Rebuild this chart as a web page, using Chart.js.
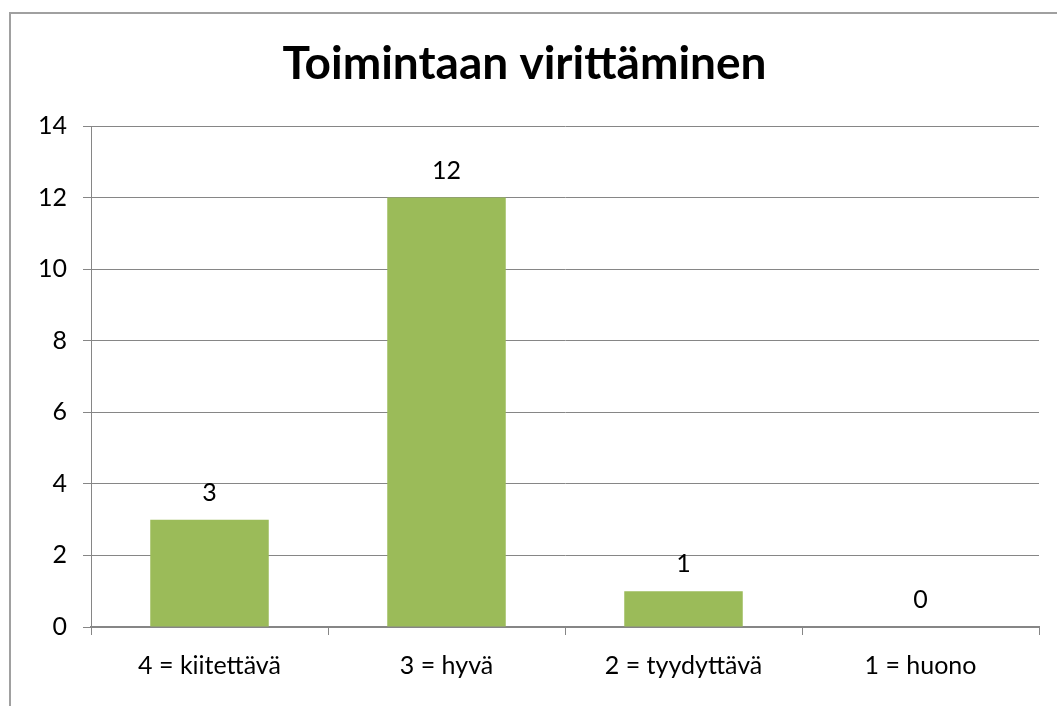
<!DOCTYPE html>
<html>
<head>
<meta charset="utf-8">
<script src="https://cdn.jsdelivr.net/npm/chart.js@4"></script>
<style>
html,body{margin:0;padding:0;background:#fff;}
#wrap{width:1057px;height:706px;position:relative;}
</style>
</head>
<body>
<div id="wrap"><canvas id="c" width="1057" height="706"></canvas></div>
<script>
const categories = ["4 = kiitettävä", "3 = hyvä", "2 = tyydyttävä", "1 = huono"];
const values = [3, 12, 1, 0];
const yTicks = [0, 2, 4, 6, 8, 10, 12, 14];
const chartTitle = "Toimintaan virittäminen";

const FONT = "Lato, 'Open Sans', sans-serif";
const GRID = "#868686";

const frame = {
  id: "frame",
  beforeDraw(chart) {
    const ctx = chart.ctx;
    ctx.save();
    ctx.fillStyle = "#fff";
    ctx.fillRect(0, 0, chart.width, chart.height);
    ctx.strokeStyle = "#a0a0a0";
    ctx.lineWidth = 2;
    ctx.beginPath();
    ctx.moveTo(10, chart.height);
    ctx.lineTo(10, 13);
    ctx.lineTo(chart.width, 13);
    ctx.stroke();
    ctx.restore();
  }
};

const valueLabels = {
  id: "valueLabels",
  afterDatasetsDraw(chart) {
    const ctx = chart.ctx;
    const meta = chart.getDatasetMeta(0);
    ctx.save();
    ctx.font = "25px " + FONT;
    ctx.fillStyle = "#000";
    ctx.textAlign = "center";
    ctx.textBaseline = "middle";
    meta.data.forEach((bar, i) => {
      ctx.fillText(String(values[i]), bar.x, bar.y - 27);
    });
    ctx.restore();
  }
};

new Chart(document.getElementById("c"), {
  type: "bar",
  data: {
    labels: categories,
    datasets: [{
      data: values,
      backgroundColor: "#9BBB59",
      borderWidth: 0,
      barPercentage: 0.5,
      categoryPercentage: 1.0
    }]
  },
  options: {
    responsive: false,
    animation: false,
    layout: { padding: { left: 10, right: 18, top: 13, bottom: 0 } },
    plugins: {
      legend: { display: false },
      tooltip: { enabled: false },
      title: {
        display: true,
        text: chartTitle,
        color: "#000",
        font: { family: FONT, size: 46, weight: "bold", lineHeight: 1.2 },
        padding: { top: 24, bottom: 33.8 }
      }
    },
    scales: {
      x: {
        offset: true,
        grid: {
          display: true,
          offset: true,
          drawOnChartArea: false,
          drawTicks: true,
          tickLength: 8,
          color: GRID,
          lineWidth: 1
        },
        border: { display: true, color: GRID, width: 2 },
        ticks: {
          color: "#000",
          font: { family: FONT, size: 25 },
          padding: 16,
          maxRotation: 0
        },
        afterFit(scale) { scale.height = 79; }
      },
      y: {
        min: 0,
        max: 14,
        afterBuildTicks(scale) { scale.ticks = yTicks.map(v => ({ value: v })); },
        grid: {
          color: GRID,
          lineWidth: 1,
          tickLength: 8,
          drawTicks: true
        },
        border: { display: true, color: GRID, width: 1 },
        ticks: {
          color: "#000",
          font: { family: FONT, size: 25 },
          padding: 16
        },
        afterFit(scale) { scale.width = 81; }
      }
    }
  },
  plugins: [frame, valueLabels]
});
</script>
</body>
</html>
